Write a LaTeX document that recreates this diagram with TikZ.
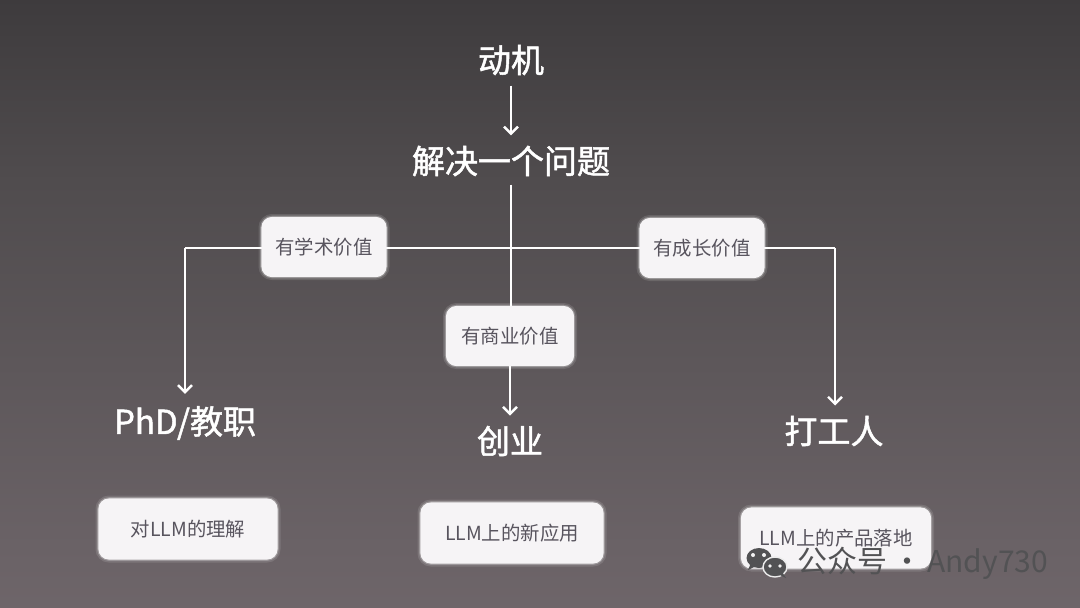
\documentclass[tikz,border=0pt]{standalone}
\usepackage{fontspec}
\newfontfamily\cjk{Noto Sans CJK SC}
\newfontfamily\cjkb{Noto Sans CJK SC}[FakeBold=1.5]
\usetikzlibrary{arrows.meta}
\definecolor{bgA}{RGB}{128,116,121}
\definecolor{bgB}{RGB}{106,98,102}
\definecolor{bgC}{RGB}{80,76,78}
\definecolor{bgD}{RGB}{50,48,50}
\definecolor{bgE}{RGB}{36,34,36}
\definecolor{bgF}{RGB}{16,15,16}
\definecolor{boxfill}{RGB}{246,244,246}
\definecolor{boxtext}{RGB}{88,84,94}
\definecolor{wmgray}{RGB}{82,82,84}
\pgfdeclarelayer{bg}
\pgfdeclarelayer{lines}
\pgfsetlayers{bg,lines,main}
\pgfdeclareverticalshading{bgshade}{100bp}{color(0bp)=(bgA); color(30bp)=(bgB); color(60bp)=(bgC); color(85bp)=(bgD); color(97bp)=(bgE); color(100bp)=(bgF)}
\tikzset{
  bigtext/.style={text=white, inner sep=0pt, font=\cjkb\fontsize{16.5pt}{18pt}\selectfont},
  valbox/.style={fill=boxfill, rounded corners=5pt, text=boxtext, inner sep=0pt,
    minimum width=62pt, minimum height=29.5pt, font=\cjk\fontsize{9.7pt}{11pt}\selectfont,
    preaction={draw=white, line width=3.5pt, opacity=0.12},
    preaction={draw=white, line width=1.8pt, opacity=0.25},
    preaction={draw=boxfill, line width=0.6pt}},
  outbox/.style={valbox, minimum width=89pt, minimum height=30pt},
  link/.style={draw=white, line width=1.2pt},
  arr/.style={link, -{Straight Barb[length=3.5pt,width=7pt]}},
}
\begin{document}
\begin{tikzpicture}[x=0.5pt,y=-0.5pt]
\begin{pgfonlayer}{bg}
  \fill[shading=bgshade] (0,0) rectangle (1080,607);
\end{pgfonlayer}
\useasboundingbox (0,0) rectangle (1080,607);

\node[bigtext] (m) at (511,60) {动机};
\node[bigtext] (q) at (511,161) {解决一个问题};
\node[valbox] (a) at (324,247) {有学术价值};
\node[valbox] (g) at (702,248) {有成长价值};
\node[valbox, minimum width=63.5pt] (c) at (510,336) {有商业价值};
\node[bigtext] (phd) at (185,423) {PhD/教职};
\node[bigtext] (cy) at (510,441) {创业};
\node[bigtext] (dg) at (834,431) {打工人};
\node[outbox] (o1) at (188,529) {对LLM的理解};
\node[outbox, minimum width=91pt] (o2) at (512,533) {LLM上的新应用};
\node[outbox, minimum width=94.5pt] (o3) at (836,538) {LLM上的产品落地};

\coordinate (L) at (185,248);
\coordinate (R) at (835,248);

\begin{pgfonlayer}{lines}
  \draw[arr, shorten <=5pt, shorten >=5pt] (m.south) -- (q.north);
  \draw[link, shorten <=4pt] (q.south) -- (c.north -| q.south);
  \draw[link] (L) -- (R);
  \draw[arr, shorten >=5pt] (c.south) -- (cy.north);
  \draw[arr, shorten >=6pt] (L) -- (phd.north -| L);
  \draw[arr, shorten >=5pt] (R) -- (dg.north -| R);
\end{pgfonlayer}

% watermark
\fill[wmgray] (759,558) ellipse (6.25pt and 5pt);
\fill[wmgray] (751,563) -- (748,570) -- (756,566) -- cycle;
\fill[wmgray, draw=white!85!gray, line width=0.7pt] (775,567) ellipse (6pt and 5pt);
\fill[wmgray] (782,572) -- (786,578) -- (778,574) -- cycle;
\fill[white!90!gray] (753,555) circle (1pt) (764,555) circle (1pt);
\fill[white!90!gray] (770,566) circle (0.9pt) (780,566) circle (0.9pt);
\node[anchor=west, inner sep=0pt, text=wmgray, font=\cjk\fontsize{15pt}{17pt}\selectfont] (wm) at (797,563) {公众号\,·\,Andy730};
\end{tikzpicture}
\end{document}
